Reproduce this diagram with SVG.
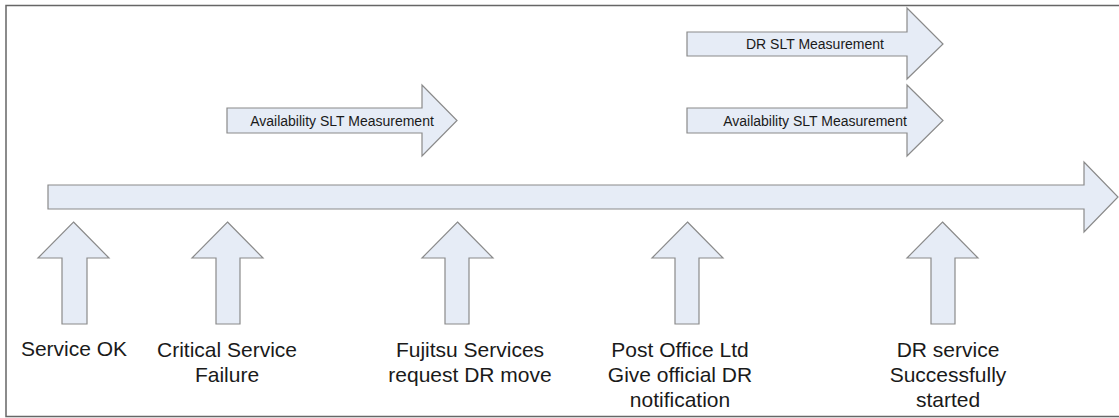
<svg xmlns="http://www.w3.org/2000/svg" width="1119" height="418" viewBox="0 0 1119 418">
  <style>
    .arr { fill: #E6ECF6; stroke: #8A8A8A; stroke-width: 1.2; }
    .lbl { font-family: "Liberation Sans", Arial, sans-serif; font-size: 21px; fill: #1a1a1a; text-anchor: middle; }
    .in { font-family: "Liberation Sans", Arial, sans-serif; font-size: 14px; fill: #1a1a1a; text-anchor: middle; }
  </style>
  <rect x="0" y="0" width="1119" height="418" fill="#ffffff"/>
  <path d="M1125,5.5 H6 V416.5 H1125" fill="none" stroke="#666666" stroke-width="1.5"/>

  <g id="connectors">
    <g id="timeline">
      <polygon class="arr" points="48,185 1084,185 1084,162 1118,197 1084,232 1084,209 48,209"/>
    </g>
  </g>

  <g id="avail-slt-1">
    <polygon class="arr" points="227,108 422,108 422,85 457,120.5 422,156 422,133 227,133"/>
    <text class="in" x="342" y="125.5">Availability SLT Measurement</text>
  </g>
  <g id="dr-slt">
    <polygon class="arr" points="687,32 907,32 907,8 943,44 907,79 907,56 687,56"/>
    <text class="in" x="815" y="49">DR SLT Measurement</text>
  </g>
  <g id="avail-slt-2">
    <polygon class="arr" points="687,108 907,108 907,85 943,120.5 907,156 907,133 687,133"/>
    <text class="in" x="815" y="125.5">Availability SLT Measurement</text>
  </g>

  <g id="service-ok">
    <polygon class="arr" points="73.5,222 109,258 87,258 87,324 62,324 62,258 38,258"/>
    <text class="lbl" x="74" y="356">Service OK</text>
  </g>
  <g id="critical-failure">
    <polygon class="arr" points="227.5,222 263,258 240,258 240,324 216,324 216,258 192,258"/>
    <text class="lbl" x="227" y="357">Critical Service</text>
    <text class="lbl" x="227" y="382">Failure</text>
  </g>
  <g id="fujitsu-request">
    <polygon class="arr" points="457.5,222 493,258 469,258 469,324 445,324 445,258 422,258"/>
    <text class="lbl" x="470" y="357">Fujitsu Services</text>
    <text class="lbl" x="470" y="382">request DR move</text>
  </g>
  <g id="post-office-notification">
    <polygon class="arr" points="687.5,222 723,258 699,258 699,324 675,324 675,258 652,258"/>
    <text class="lbl" x="680" y="357">Post Office Ltd</text>
    <text class="lbl" x="680" y="382">Give official DR</text>
    <text class="lbl" x="680" y="407">notification</text>
  </g>
  <g id="dr-started">
    <polygon class="arr" points="942.5,222 978,258 955,258 955,324 931,324 931,258 907,258"/>
    <text class="lbl" x="948" y="357">DR service</text>
    <text class="lbl" x="948" y="382">Successfully</text>
    <text class="lbl" x="948" y="407">started</text>
  </g>
</svg>
